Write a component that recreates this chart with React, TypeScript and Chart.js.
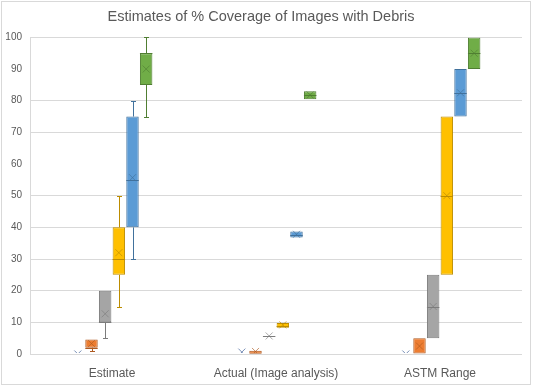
import React, { useEffect, useRef } from "react";
import { Chart, registerables } from "chart.js";

Chart.register(...registerables);

const titleText = "Estimates of % Coverage of Images with Debris";
const categories = ["Estimate", "Actual (Image analysis)", "ASTM Range"];
const seriesNames = ["Series 1", "Series 2", "Series 3", "Series 4", "Series 5", "Series 6"];
const seriesFill = ["#4472C4", "#ED7D31", "#A5A5A5", "#FFC000", "#5B9BD5", "#70AD47"];
const seriesLine = ["#2F528F", "#AE5A21", "#7C7C7C", "#BC8C00", "#41719C", "#507E32"];

// per series -> per category
const mins = [[0, 0.2, 0], [1, 0.1, 0], [5, 5.7, 5], [15, 8.3, 25], [30, 36.8, 75], [75, 80.5, 90]];
const q1s = [[0, 0.2, 0], [2, 0.1, 0], [10, 5.7, 5], [25, 8.3, 25], [40, 36.8, 75], [85, 80.5, 90]];
const medians = [[0, 0.2, 0], [2, 0.1, 0], [10, 5.7, 15], [30, 9, 50], [55, 37.5, 82.5], [95, 81.7, 95]];
const q3s = [[0, 0.2, 0], [4.6, 1, 5], [20, 5.7, 25], [40, 9.8, 75], [75, 38.7, 90], [95, 83, 100]];
const maxs = [[0, 0.2, 0], [4.6, 1, 5], [20, 5.7, 25], [50, 9.8, 75], [80, 38.7, 90], [100, 83, 100]];
const means = [[0, 0.6, 0], [3.3, 0.8, 2.5], [12.7, 5.7, 15], [32, 9.2, 50], [55.7, 37.8, 82.5], [90, 81.8, 95]];

const yMin = 0;
const yMax = 100;
const yStep = 10;
const hiddenGridValues = [60, 90];

const FONT = "'Liberation Sans', Arial, sans-serif";
const TEXT = "#595959";
const GRID = "#D9D9D9";

const boxPlugin = {
  id: "boxParts",
  beforeDraw(chart: any) {
    const ctx = chart.ctx;
    ctx.save();
    ctx.strokeStyle = GRID;
    ctx.lineWidth = 1;
    ctx.strokeRect(1.5, 1.5, chart.width - 5, chart.height - 5);
    ctx.restore();
  },
  beforeDatasetsDraw(chart: any) {
    const ctx = chart.ctx;
    const y = chart.scales.y;
    const area = chart.chartArea;
    ctx.save();
    ctx.beginPath();
    ctx.rect(area.left, area.top - 1, area.right - area.left, area.bottom - area.top + 1);
    ctx.clip();
    chart.data.datasets.forEach((ds: any, i: number) => {
      const meta = chart.getDatasetMeta(i);
      meta.data.forEach((el: any, j: number) => {
        const x = Math.round(el.x) + 0.5;
        ctx.strokeStyle = seriesLine[i];
        ctx.lineWidth = 1;
        const segs = [
          [q3s[i][j], maxs[i][j]],
          [q1s[i][j], mins[i][j]],
        ];
        segs.forEach(([a, b]) => {
          if (a === b) return;
          const pa = y.getPixelForValue(a);
          const pb = Math.round(y.getPixelForValue(b)) + 0.5;
          ctx.beginPath();
          ctx.moveTo(x, pa);
          ctx.lineTo(x, pb);
          ctx.moveTo(x - 2.5, pb);
          ctx.lineTo(x + 2.5, pb);
          ctx.stroke();
        });
      });
    });
    ctx.restore();
  },
  afterDatasetsDraw(chart: any) {
    const ctx = chart.ctx;
    const y = chart.scales.y;
    const area = chart.chartArea;
    ctx.save();
    ctx.beginPath();
    ctx.rect(area.left, area.top - 1, area.right - area.left, area.bottom - area.top);
    ctx.clip();
    chart.data.datasets.forEach((ds: any, i: number) => {
      const meta = chart.getDatasetMeta(i);
      meta.data.forEach((el: any, j: number) => {
        const half = el.width / 2;
        const pm = Math.round(y.getPixelForValue(medians[i][j])) + 0.5;
        ctx.strokeStyle = seriesLine[i];
        ctx.lineWidth = 1;
        ctx.beginPath();
        ctx.moveTo(el.x - half, pm);
        ctx.lineTo(el.x + half, pm);
        ctx.stroke();
        const py = y.getPixelForValue(means[i][j]);
        const s = 3.5;
        ctx.globalAlpha = 0.65;
        ctx.beginPath();
        ctx.moveTo(el.x - s, py - s);
        ctx.lineTo(el.x + s, py + s);
        ctx.moveTo(el.x - s, py + s);
        ctx.lineTo(el.x + s, py - s);
        ctx.stroke();
        ctx.globalAlpha = 1;
      });
    });
    ctx.restore();
  },
};

export default function App() {
  const ref = useRef<HTMLCanvasElement | null>(null);

  useEffect(() => {
    document.body.style.margin = "0";
    if (!ref.current) return;
    const chart = new Chart(ref.current, {
      type: "bar",
      data: {
        labels: categories,
        datasets: seriesNames.map((name, i) => ({
          label: name,
          data: categories.map((_, j) => [q1s[i][j], q3s[i][j]]),
          backgroundColor: seriesFill[i],
          borderColor: seriesLine[i],
          borderWidth: 1,
          borderSkipped: false,
          categoryPercentage: 0.5,
          barPercentage: 0.91,
        })),
      },
      options: {
        responsive: false,
        animation: false,
        devicePixelRatio: 1,
        layout: { padding: { left: 0, right: 12, top: 0, bottom: 0 } },
        plugins: {
          legend: { display: false },
          tooltip: { enabled: false },
          title: {
            display: true,
            text: titleText,
            color: TEXT,
            font: { family: FONT, size: 14.5, weight: "normal" },
            padding: { top: 8, bottom: 12 },
          },
        },
        scales: {
          x: {
            grid: { display: false },
            border: { display: false },
            ticks: {
              color: TEXT,
              font: { family: FONT, size: 12 },
              padding: 4,
              maxRotation: 0,
              autoSkip: false,
            },
            afterFit: (scale: any) => {
              scale.height = 34;
            },
          },
          y: {
            min: yMin,
            max: yMax,
            grid: {
              color: (c: any) =>
                c.tick && hiddenGridValues.includes(c.tick.value) ? "rgba(0,0,0,0)" : GRID,
              drawTicks: false,
              lineWidth: 1,
            },
            border: { display: true, color: GRID },
            ticks: {
              stepSize: yStep,
              color: TEXT,
              font: { family: FONT, size: 10 },
              padding: 8,
            },
            afterFit: (scale: any) => {
              scale.width = 30;
            },
          },
        },
      },
      plugins: [boxPlugin],
    } as any);
    return () => chart.destroy();
  }, []);

  return (
    <div style={{ width: 534, height: 388 }}>
      <canvas ref={ref} width={534} height={388} style={{ display: "block" }} />
    </div>
  );
}
